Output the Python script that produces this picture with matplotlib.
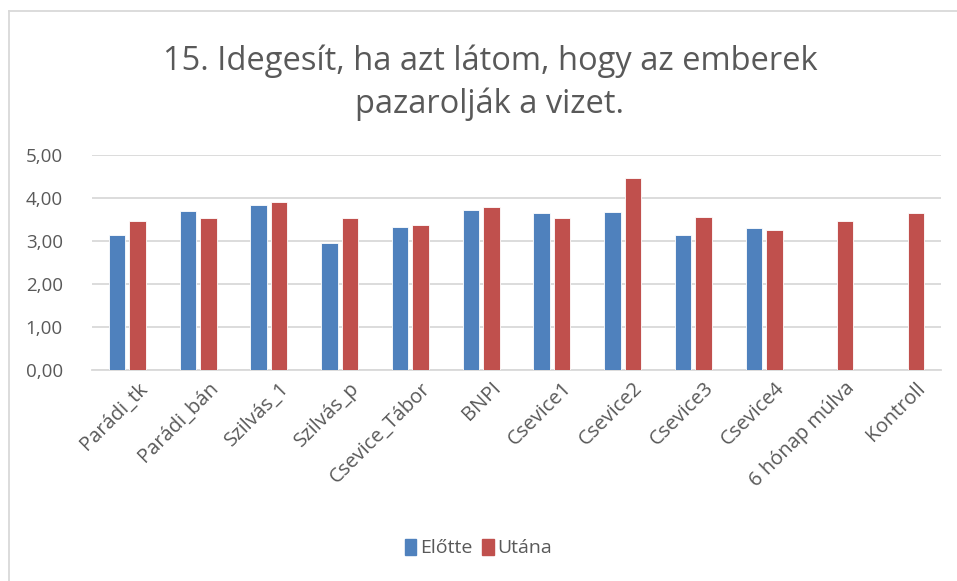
import matplotlib.pyplot as plt
import matplotlib.transforms as mtransforms
import numpy as np
from matplotlib.patches import Rectangle
from matplotlib.lines import Line2D

# Data
categories = ["Parádi_tk", "Parádi_bán", "Szilvás_1", "Szilvás_p", "Csevice_Tábor", "BNPI",
              "Csevice1", "Csevice2", "Csevice3", "Csevice4", "6 hónap múlva", "Kontroll"]
elotte = [3.15, 3.69, 3.83, 2.95, 3.33, 3.71, 3.66, 3.68, 3.14, 3.31, np.nan, np.nan]
utana = [3.47, 3.54, 3.90, 3.53, 3.37, 3.80, 3.54, 4.47, 3.55, 3.26, 3.47, 3.66]
yticks = [0, 1, 2, 3, 4, 5]

plt.rcParams["font.family"] = ["Open Sans", "DejaVu Sans"]

fig = plt.figure(figsize=(9.57, 5.81), dpi=100)
ax = fig.add_axes([92 / 957, 1 - 370 / 581, 849 / 957, 215 / 581])

x = np.arange(len(categories))
w = 0.23
ax.bar(x - 0.145, elotte, w, color="#4F81BD", edgecolor="white", linewidth=0.6, zorder=3, label="Előtte")
ax.bar(x + 0.145, utana, w, color="#C0504D", edgecolor="white", linewidth=0.6, zorder=3, label="Utána")

ax.set_xlim(-0.5, len(categories) - 0.5)
ax.set_ylim(0, 5)
ax.set_yticks(yticks)
ax.set_yticklabels([f"{v:.2f}".replace(".", ",") for v in yticks], fontsize=13.5, color="#595959")
ax.yaxis.grid(True, color="#d9d9d9", linewidth=1.3, zorder=0)
ax.tick_params(axis="y", length=0, pad=21)
ax.tick_params(axis="x", length=0, pad=6)
for s in ["top", "right", "left"]:
    ax.spines[s].set_visible(False)
ax.spines["bottom"].set_color("#d9d9d9")
ax.spines["bottom"].set_linewidth(1.3)

ax.set_xticks(x)
ax.set_xticklabels(categories, rotation=45, ha="right", va="top", rotation_mode="anchor",
                   fontsize=14.5, color="#595959")
shift = mtransforms.ScaledTranslation(10 / 100, 0, fig.dpi_scale_trans)
for lbl in ax.get_xticklabels():
    lbl.set_transform(lbl.get_transform() + shift)

fig.text(490 / 957, 1 - 61 / 581, "15. Idegesít, ha azt látom, hogy az emberek", ha="center", va="center",
         fontsize=23.5, color="#595959")
fig.text(490 / 957, 1 - 104 / 581, "pazarolják a vizet.", ha="center", va="center",
         fontsize=23.5, color="#595959")

handles = [Rectangle((0, 0), 1, 1, color="#4F81BD"), Rectangle((0, 0), 1, 1, color="#C0504D")]
fig.legend(handles, ["Előtte", "Utána"], loc="center", bbox_to_anchor=(0.5, 1 - 548 / 581), ncol=2,
           frameon=False, fontsize=14, handlelength=0.6, handleheight=0.9, handletextpad=0.2,
           columnspacing=0.5, labelcolor="#595959")

# chart border (only top and left visible in the crop)
fig.add_artist(Line2D([9 / 957, 9 / 957], [0, 1 - 11 / 581], transform=fig.transFigure, color="#d9d9d9", linewidth=1.3))
fig.add_artist(Line2D([9 / 957, 1], [1 - 11 / 581, 1 - 11 / 581], transform=fig.transFigure, color="#d9d9d9", linewidth=1.3))

fig.savefig("out.png", dpi=100)
